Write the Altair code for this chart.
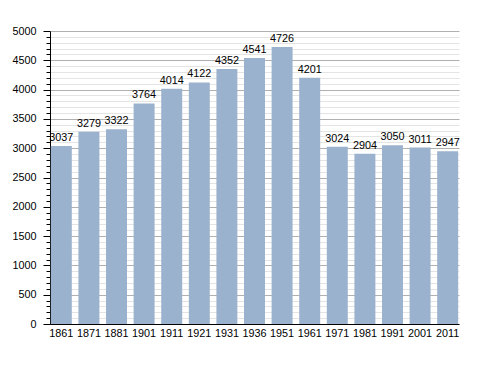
import altair as alt
import pandas as pd

years = ["1861", "1871", "1881", "1901", "1911", "1921", "1931", "1936",
         "1951", "1961", "1971", "1981", "1991", "2001", "2011"]
population = [3037, 3279, 3322, 3764, 4014, 4122, 4352, 4541,
              4726, 4201, 3024, 2904, 3050, 3011, 2947]

df = pd.DataFrame({"year": years, "pop": population})

tick_values = list(range(0, 5001, 100))
FONT = "Liberation Sans"
FS = 10.8

x = alt.X("year:N", sort=None, title=None,
          scale=alt.Scale(paddingInner=0.24, paddingOuter=0.03),
          axis=alt.Axis(labelAngle=0, ticks=False, domainColor="#000",
                        labelFont=FONT, labelFontSize=FS,
                        labelColor="#000", labelPadding=3))
y = alt.Y("pop:Q", title=None,
          scale=alt.Scale(domain=[0, 5000], nice=False),
          axis=alt.Axis(values=tick_values,
                        labelExpr="datum.value % 500 === 0 ? datum.label : ''",
                        gridColor={"condition": {"test": "datum.value % 500 === 0", "value": "#b0b0b0"}, "value": "#e4e4e4"},
                        tickSize={"condition": {"test": "datum.value % 500 === 0", "value": 7}, "value": 4},
                        tickColor="#000", domainColor="#000",
                        labelFont=FONT, labelFontSize=FS,
                        labelColor="#000", labelPadding=7, format="d"))

bars = alt.Chart(df).mark_bar(color="#9ab2cd").encode(x=x, y=y)
text = alt.Chart(df).mark_text(dy=-3, baseline="bottom", font=FONT,
                               fontSize=FS, color="#000").encode(x=x, y=y, text="pop:Q")

chart = (bars + text).properties(
    width=409, height=293,
    autosize=alt.AutoSizeParams(type="none"),
    padding={"left": 42, "top": 23, "right": 21, "bottom": 41},
).configure_view(stroke=None).configure_axis(labelFlush=False)

chart.save("out.html", embed_options={"renderer": "svg", "actions": False})
